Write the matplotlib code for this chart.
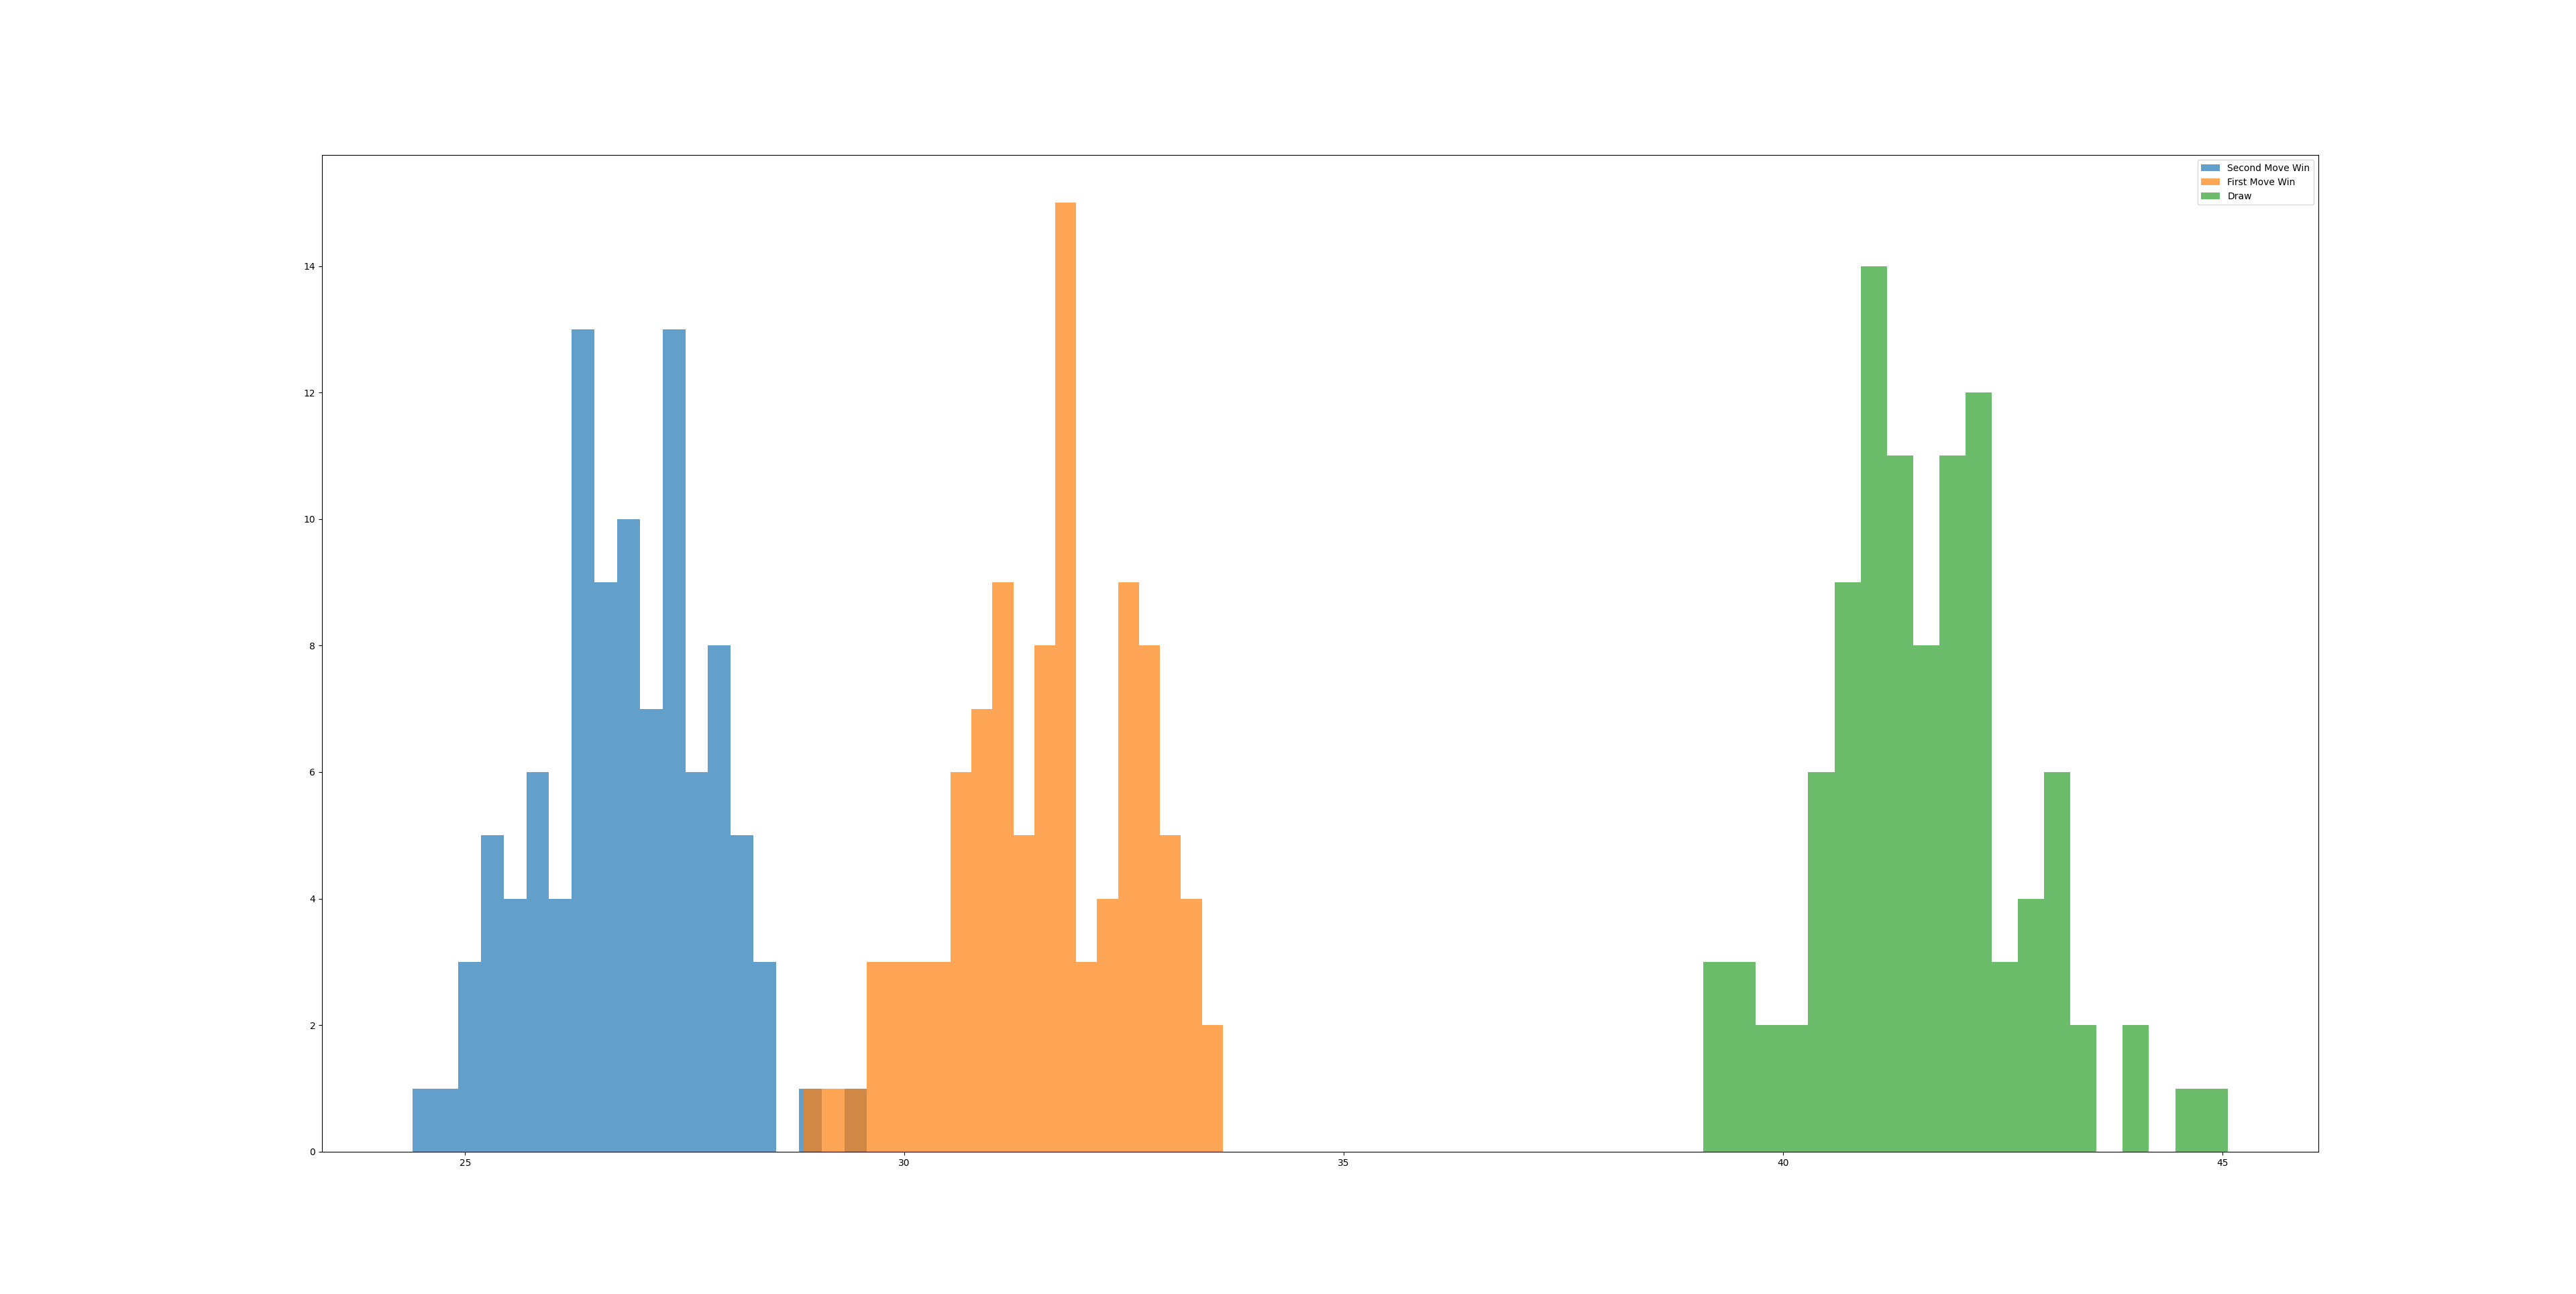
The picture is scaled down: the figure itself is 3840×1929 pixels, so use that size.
import numpy as np
import matplotlib
matplotlib.use("Agg")
import matplotlib.pyplot as plt

labels = ["Second Move Win", "First Move Win", "Draw"]

second_range = (24.404, 29.574)
second_counts = [1, 1, 3, 5, 4, 6, 4, 13, 9, 10, 7, 13, 6, 8, 5, 3, 0, 1, 0, 1]

first_range = (28.855, 33.625)
first_counts = [1, 1, 1, 3, 3, 3, 3, 6, 7, 9, 5, 8, 15, 3, 4, 9, 8, 5, 4, 2]

draw_range = (39.094, 45.062)
draw_counts = [3, 3, 2, 2, 6, 9, 14, 11, 8, 11, 12, 3, 4, 6, 2, 0, 2, 0, 1, 1]

fig, ax = plt.subplots(figsize=(38.4, 19.29), dpi=100)

for rng, counts, lab in [(second_range, second_counts, labels[0]),
                         (first_range, first_counts, labels[1]),
                         (draw_range, draw_counts, labels[2])]:
    edges = np.linspace(rng[0], rng[1], len(counts) + 1)
    centers = (edges[:-1] + edges[1:]) / 2
    ax.hist(centers, bins=edges, weights=counts, alpha=0.7, label=lab)

ax.legend()
fig.savefig("out.png", dpi=100)
